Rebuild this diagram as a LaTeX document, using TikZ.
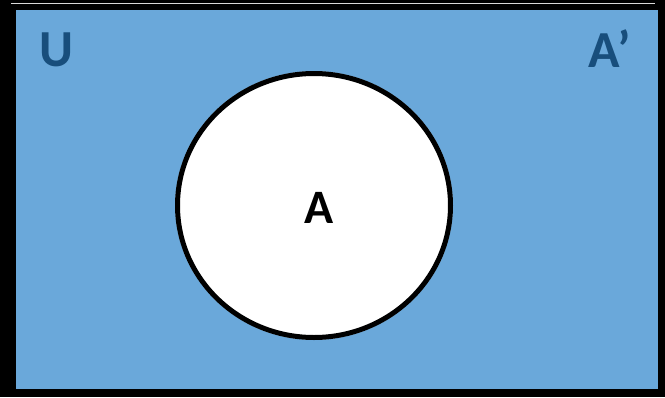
\documentclass[tikz,border=0pt]{standalone}
\usepackage{fontspec}
\setmainfont{Carlito}
\definecolor{setblue}{RGB}{106,168,218}
\definecolor{labelblue}{RGB}{24,78,124}
\begin{document}
\begin{tikzpicture}[x=1pt,y=-1pt,
  lbl/.style={font=\bfseries\fontsize{52}{52}\selectfont,text=labelblue,inner sep=0pt},
  setlbl/.style={font=\bfseries\fontsize{48}{48}\selectfont,text=black,inner sep=0pt}]
\useasboundingbox (0,0) rectangle (665,397);
\fill[black] (0,0) rectangle (665,397);
\draw[white!85!black,line width=1pt] (11,3.5) -- (655,3.5);
\fill[setblue] (16,9.5) rectangle (658,389);
\draw[white,line width=4.5pt] (314,205.5) ellipse [x radius=136.5, y radius=132];
\fill[white] (314,205.5) ellipse [x radius=136.5, y radius=132];
\draw[black,line width=5pt] (314,205.5) ellipse [x radius=136.5, y radius=132];
\node[lbl] (u) at (56,49.5) {U};
\node[lbl] (ac) at (610,48.5) {A’};
\node[setlbl] (a) at (319,207.5) {A};
\end{tikzpicture}
\end{document}
